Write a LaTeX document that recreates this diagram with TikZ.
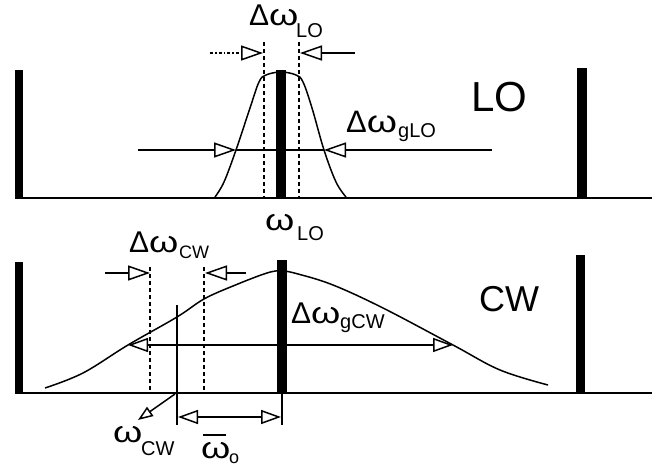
\documentclass[tikz,border=0pt]{standalone}
\usepackage{fontspec}
\setmainfont{Liberation Sans}
\usetikzlibrary{arrows.meta}
\newcommand{\wom}{\scalebox{1.25}[1]{ω}}
\tikzset{
  thinln/.style={line width=1.5pt},
  dashln/.style={line width=1.8pt, dash pattern=on 4pt off 3pt},
  tri/.style={-{Triangle[open,length=22pt,width=15pt,line width=1.5pt]}},
  tribb/.style={{Triangle[open,length=20pt,width=14pt,line width=1.5pt]}-{Triangle[open,length=20pt,width=14pt,line width=1.5pt]}},
  bigt/.style={font=\fontsize{30}{30}\selectfont, inner sep=0pt, anchor=base west},
  subt/.style={font=\fontsize{20}{20}\selectfont, inner sep=0pt, anchor=base west},
  subs/.style={font=\fontsize{18}{18}\selectfont, inner sep=0pt, anchor=base west},
}
\begin{document}
\begin{tikzpicture}[x=1pt,y=-1pt]
\useasboundingbox (0,0) rectangle (654,470);
% ---------- top panel (LO) ----------
\fill (15,70) rectangle (23,198);
\fill (276,70) rectangle (286,198);
\fill (577,68) rectangle (587,198);
\draw[thinln] (15,198) -- (652,198);
\draw[thinln] plot[smooth, tension=0.6] coordinates {(215,197) (224,182) (236,150) (250,108) (259,82) (266,75) (281,72) (296,75) (303,82) (312,108) (324,150) (336,182) (346,197)};
\draw[dashln] (264,42) -- (264,197);
\draw[dashln] (299,42) -- (299,197);
\coordinate (gl) at (236,150);
\coordinate (gr) at (324,150);
\coordinate (gls) at (138,150);
\coordinate (grs) at (492,150);
\draw[thinln,tri] (gls) -- (gl);
\draw[thinln] (gl) -- (gr);
\draw[thinln,tri] (grs) -- (gr);
\coordinate (tls) at (210,53);
\coordinate (tl) at (263,53);
\coordinate (trs) at (355,53);
\coordinate (tr) at (300,53);
\draw[thinln,dash dot,tri] (tls) -- (tl);
\draw[thinln,tri] (trs) -- (tr);
% labels top
\node[bigt] (dlo) at (249,26) {Δ\wom};
\node[subt] (dlos) at (296,38) {LO};
\node[bigt, font=\fontsize{31}{31}\selectfont] (dglo) at (346,133) {Δ\wom};
\node[subt] (dglos) at (398,138) {gLO};
\node[bigt, font=\fontsize{42}{42}\selectfont] (lo) at (471,112) {LO};
\node[bigt] (wlo) at (265,231) {\wom};
\node[subt] (wlos) at (297,241) {LO};
% ---------- bottom panel (CW) ----------
\fill (15,262) rectangle (23,393);
\fill (277,260) rectangle (287,393);
\fill (576,255) rectangle (585,393);
\draw[thinln] (15,393) -- (652,393);
\draw[thinln] plot[smooth, tension=0.6] coordinates {(45,388) (83,373) (128,345) (177,317) (204,299) (233,286) (267,273) (282,271) (298,274) (333,285) (383,308) (453,345) (500,370) (548,385)};
\draw[dashln] (150,267) -- (150,393);
\draw[dashln] (204,267) -- (204,393);
\coordinate (cls) at (105,273);
\coordinate (cl) at (150,273);
\coordinate (crs) at (246,273);
\coordinate (cr) at (205,273);
\draw[thinln,tri] (cls) -- (cl);
\draw[thinln,tri] (crs) -- (cr);
\coordinate (gcl) at (128,345);
\coordinate (gcr) at (453,345);
\draw[thinln,tribb] (gcl) -- (gcr);
\coordinate (v1t) at (177,305);
\coordinate (v1b) at (177,425);
\coordinate (v2t) at (282,393);
\coordinate (v2b) at (282,425);
\draw[thinln] (v1t) -- (v1b);
\draw[thinln] (v2t) -- (v2b);
\coordinate (wl) at (178,417);
\coordinate (wr) at (281,417);
\draw[thinln,tribb] (wl) -- (wr);
\coordinate (cws) at (175,394);
\coordinate (cwe) at (138,420);
\draw[thinln,-{Triangle[open,length=15pt,width=11pt,line width=1.5pt]}] (cws) -- (cwe);
% labels bottom
\node[bigt] (dcw) at (129,253) {Δ\wom};
\node[subs] (dcws) at (179,259) {CW};
\node[bigt] (dgcw) at (291,324) {Δ\wom};
\node[subt] (dgcws) at (340,329) {gCW};
\node[bigt, font=\fontsize{36}{36}\selectfont] (cw) at (479,312) {CW};
\node[bigt] (wcw) at (113,443) {\wom};
\node[subt] (wcws) at (141,456) {CW};
\node[bigt] (w0) at (201,459) {\wom};
\node[subs] (w0s) at (229,464) {o};
\coordinate (bl) at (203,435);
\coordinate (br) at (226,435);
\draw[thinln] (bl) -- (br);
\end{tikzpicture}
\end{document}
